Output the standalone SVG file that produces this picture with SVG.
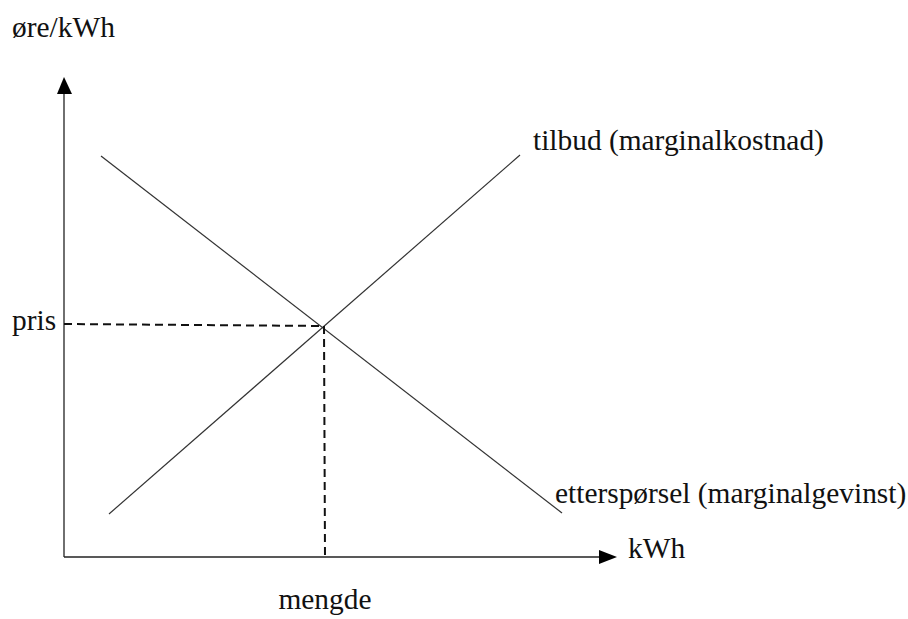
<svg xmlns="http://www.w3.org/2000/svg" width="908" height="619" viewBox="0 0 908 619">
<style>
text{font-family:"Liberation Serif","Times New Roman",serif;font-size:29.4px;fill:#111}
.ax{stroke:#222;stroke-width:1.3;fill:none}
.cv{stroke:#333;stroke-width:1.2;fill:none}
.ds{stroke:#111;stroke-width:2;stroke-dasharray:8 5;fill:none}
</style>
<rect width="908" height="619" fill="#fff"/>
<g id="axes">
<line class="ax" x1="64" y1="557" x2="64" y2="92"/>
<polygon points="64,77 57,94 72,94" fill="#000"/>
<line class="ax" x1="64" y1="557" x2="600" y2="557"/>
<polygon points="617,557 599,550 599,564" fill="#000"/>
</g>
<g id="connectors">
<line id="supply" class="cv" x1="109" y1="514" x2="520" y2="155"/>
<line id="demand" class="cv" x1="101" y1="156" x2="562" y2="513"/>
<line class="ds" x1="64" y1="324" x2="323" y2="326"/>
<line class="ds" x1="324" y1="326" x2="325" y2="557"/>
</g>
<g id="labels">
<text x="12" y="37">øre/kWh</text>
<text x="12" y="330">pris</text>
<text x="628" y="558">kWh</text>
<text x="325" y="609" text-anchor="middle">mengde</text>
<text x="533" y="150">tilbud (marginalkostnad)</text>
<text x="555" y="503">etterspørsel (marginalgevinst)</text>
</g>
</svg>
